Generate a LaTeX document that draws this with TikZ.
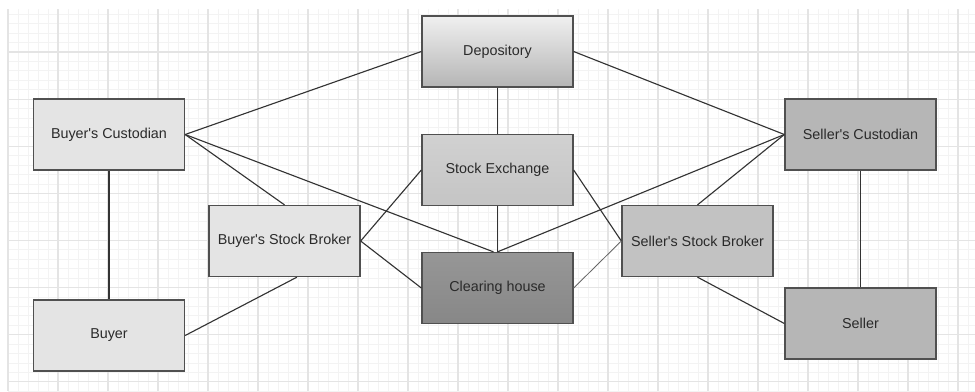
\documentclass[tikz,border=0pt]{standalone}
\usepackage{fontspec}
\setmainfont{Liberation Sans}
\usepackage{tikz}
\usetikzlibrary{positioning}

\definecolor{boxline}{HTML}{505050}
\definecolor{txt}{HTML}{2A2A2A}
\definecolor{buyside}{HTML}{E4E4E4}
\definecolor{sellside}{HTML}{B6B6B6}
\definecolor{sellbroker}{HTML}{C2C2C2}
\definecolor{gridmajor}{HTML}{E4E4E4}
\definecolor{gridminor}{HTML}{F3F3F3}

\begin{document}
\begin{tikzpicture}[x=0.025cm, y=-0.025cm,
        party/.style={draw=boxline, line width=0.9pt, minimum width=3.775cm,
            minimum height=1.775cm, inner sep=2pt, text=txt,
            font=\fontsize{10.2}{12}\selectfont},
        link/.style={draw=black!80, line width=0.8pt},
        minorline/.style={draw=gridminor, line width=0.5pt},
        majorline/.style={draw=gridmajor, line width=0.8pt}]
        \useasboundingbox (0,0) rectangle (975,391);

        % background grid
        \foreach \gx in {0,...,96}
            \draw[minorline] (8+10*\gx,9) -- (8+10*\gx,391);
        \foreach \gy in {-4,...,36}
            \draw[minorline] (8,52+9.42*\gy) -- (975,52+9.42*\gy);
        \foreach \gx in {0,...,19}
            \draw[majorline] (8+50*\gx,9) -- (8+50*\gx,391);
        \foreach \gy in {0,...,7}
            \draw[majorline] (8,52+47.1*\gy) -- (975,52+47.1*\gy);

        \node[party, fill=buyside] (bcust) at (109,134.5) {Buyer\textquotesingle s Custodian};
        \node[party, top color=gray!12, bottom color=gray!58] (depo) at (497.5,51.5) {Depository};
        \node[party, top color=gray!36, bottom color=gray!46] (sx) at (497.5,170) {Stock Exchange};
        \node[party, fill=sellside] (scust) at (860.5,134.5) {Seller\textquotesingle s Custodian};
        \node[party, fill=buyside] (bsb) at (284.5,241) {Buyer\textquotesingle s Stock Broker};
        \node[party, top color=gray!82, bottom color=gray!94] (clear) at (497.5,288) {Clearing house};
        \node[party, fill=sellbroker] (ssb) at (697.5,241) {Seller\textquotesingle s Stock Broker};
        \node[party, fill=buyside] (buyer) at (109,335.5) {Buyer};
        \node[party, fill=sellside] (seller) at (860.5,323.5) {Seller};

        \path[link]
        (bcust.east) edge (depo.west)
            (bcust.east) edge (bsb.north)
            (bcust.east) edge ([xshift=-0.1cm]clear.north)
        (bcust) edge (buyer)
        (depo) edge (sx)
            (depo.east) edge (scust.west)
        (sx.west) edge (bsb.east)
            (sx.east) edge (ssb.west)
            (sx) edge (clear)
        (bsb.east) edge (clear.west)
            (bsb.-71) edge (buyer.east)
        (scust.west) edge (clear.north)
            (scust.west) edge (ssb.north)
            (scust) edge (seller)
        (clear.east) edge[draw=black!60, line width=0.6pt] (ssb.west)
        (ssb.south) edge (seller.west);
    \end{tikzpicture}
\end{document}
